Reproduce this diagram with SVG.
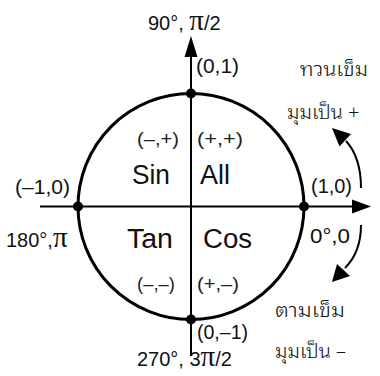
<svg xmlns="http://www.w3.org/2000/svg" width="380" height="376" viewBox="0 0 380 376">
<style>
text{font-family:"Liberation Sans",Arial,sans-serif;fill:#111}
.big{font-size:27px}
.lab{font-size:20px}
.sg{font-size:18px;fill:#222}
.th{font-family:"Noto Sans Thai Looped","Noto Serif Thai","Garuda","Loma","Norasi","Noto Sans Thai",sans-serif;font-size:20px;font-weight:300}
.pi{font-family:"Liberation Serif","Times New Roman",serif;font-size:29px}
.ax{stroke:#000;stroke-width:2;fill:none}
.ah{fill:#000;stroke:none}
.dot{fill:#000}
</style>
<rect width="380" height="376" fill="#fff"/>
<g id="connectors">
  <line class="ax" x1="191" y1="55" x2="191" y2="356"/>
  <polygon class="ah" points="191,36 184.5,57 197.5,57"/>
  <line class="ax" x1="40" y1="206.5" x2="354" y2="206.5"/>
  <polygon class="ah" points="371,206.5 352,199.5 352,213.5"/>
  <path class="ax" d="M361,188 C361,168 356,152 346,141" stroke-width="2.5"/>
  <polygon class="ah" points="332,128 351,134 339.5,146.5"/>
  <path class="ax" d="M361,225 C361,243 355,258 345,268" stroke-width="2.5"/>
  <polygon class="ah" points="332,282 337,264 350,276"/>
</g>
<g id="circle">
  <circle cx="191" cy="206.5" r="113" fill="none" stroke="#000" stroke-width="3"/>
  <circle class="dot" cx="191" cy="93.5" r="5"/>
  <circle class="dot" cx="191" cy="319.5" r="5"/>
  <circle class="dot" cx="78" cy="206.5" r="5"/>
  <circle class="dot" cx="304" cy="206.5" r="5"/>
</g>
<g id="quadrants">
  <text class="big" x="132" y="184" textLength="38" lengthAdjust="spacingAndGlyphs">Sin</text>
  <text class="big" x="200" y="184" textLength="30" lengthAdjust="spacingAndGlyphs">All</text>
  <text class="big" x="127" y="248" textLength="46" lengthAdjust="spacingAndGlyphs">Tan</text>
  <text class="big" x="203" y="248" textLength="49" lengthAdjust="spacingAndGlyphs">Cos</text>
  <text class="sg" x="137" y="145" textLength="42" lengthAdjust="spacingAndGlyphs">(–,+)</text>
  <text class="sg" x="197" y="145" textLength="46" lengthAdjust="spacingAndGlyphs">(+,+)</text>
  <text class="sg" x="137" y="290" textLength="38" lengthAdjust="spacingAndGlyphs">(–,–)</text>
  <text class="sg" x="197" y="290" textLength="42" lengthAdjust="spacingAndGlyphs">(+,–)</text>
</g>
<g id="points">
  <text class="lab" x="196" y="73" textLength="43" lengthAdjust="spacingAndGlyphs">(0,1)</text>
  <text class="lab" x="311" y="193" textLength="41" lengthAdjust="spacingAndGlyphs">(1,0)</text>
  <text class="lab" x="15" y="194" textLength="55" lengthAdjust="spacingAndGlyphs">(–1,0)</text>
  <text class="lab" x="197" y="339" textLength="51" lengthAdjust="spacingAndGlyphs">(0,–1)</text>
</g>
<g id="angles">
  <text class="lab" x="148" y="30">90°, <tspan class="pi">π</tspan>/2</text>
  <text class="lab" x="6" y="247">180°,<tspan class="pi">π</tspan></text>
  <text class="lab" x="310" y="243" textLength="40" lengthAdjust="spacingAndGlyphs">0°,0</text>
  <text class="lab" x="137" y="366">270°, 3<tspan class="pi">π</tspan>/2</text>
</g>
<g id="directions">
  <text class="th" x="300" y="76" textLength="68" lengthAdjust="spacingAndGlyphs">ทวนเข็ม</text>
  <text class="th" x="287" y="119">มุมเป็น +</text>
  <text class="th" x="275" y="317" textLength="70" lengthAdjust="spacingAndGlyphs">ตามเข็ม</text>
  <text class="th" x="275" y="358">มุมเป็น –</text>
</g>
</svg>
